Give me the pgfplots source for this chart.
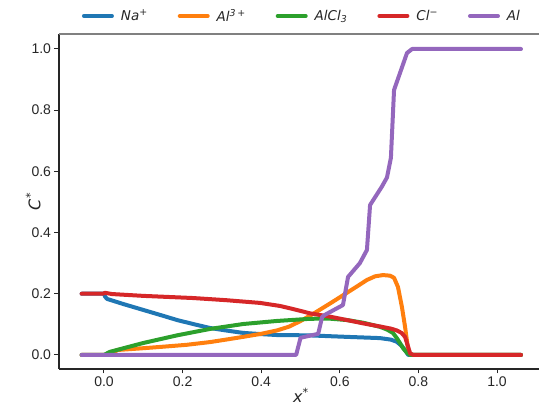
\documentclass[border=0pt]{standalone}
\usepackage{pgfplots}
\pgfplotsset{compat=1.18}
\usepackage{fontspec}
\setmainfont{Liberation Sans}
\newfontfamily\djv{DejaVu Sans}
\definecolor{tblue}{HTML}{1F77B4}
\definecolor{torange}{HTML}{FF7F0E}
\definecolor{tgreen}{HTML}{2CA02C}
\definecolor{tred}{HTML}{D62728}
\definecolor{tpurple}{HTML}{9467BD}
\definecolor{spine}{HTML}{262626}
\begin{document}
\begin{tikzpicture}
\begin{axis}[
  scale only axis, width=484pt, height=335pt,
  xmin=-0.1145, xmax=1.117, ymin=-0.046, ymax=1.049,
  axis x line*=bottom, axis y line*=left,
  axis line style={spine, line width=1.5pt, -},
  tick align=outside, major tick length=4.5pt,
  tick style={spine, line width=1pt},
  xtick={0,0.2,0.4,0.6,0.8,1.0}, ytick={0,0.2,0.4,0.6,0.8,1.0},
  xticklabel style={/pgf/number format/.cd, fixed, fixed zerofill, precision=1},
  yticklabel style={/pgf/number format/.cd, fixed, fixed zerofill, precision=1},
  /pgf/number format/assume math mode=true,
  ticklabel style={font=\fontsize{14}{16}\selectfont, text=spine},
  xlabel={{\djv\itshape x}\textsuperscript{\djv *}},
  ylabel={{\djv\itshape C}\textsuperscript{\djv *}},
  label style={font=\fontsize{16}{18}\selectfont, text=spine},
  xlabel style={yshift=6pt},
  ylabel style={yshift=-16pt},
  legend columns=5,
  legend style={draw=none, fill=none, at={(0.502,1)}, anchor=center, yshift=18pt,
    font=\djv\itshape\fontsize{13.5}{15}\selectfont, text=spine,
    /tikz/every odd column/.append style={column sep=5pt},
    /tikz/every even column/.append style={column sep=28pt}},
  legend image code/.code={\draw[#1, line width=4pt, line cap=round] (0pt,0pt) -- (28pt,0pt);},
  every axis plot/.append style={line width=4pt, line join=round, line cap=round},
  clip=false,
]
\addplot[tblue] coordinates {(-0.057,0.2) (0.0,0.2) (0.003,0.19) (0.008,0.183) (0.05,0.166) (0.1,0.147) (0.15,0.128) (0.186,0.114) (0.23,0.1) (0.27,0.088) (0.31,0.08) (0.354,0.072) (0.4,0.068) (0.44,0.065) (0.52,0.064) (0.618,0.059) (0.702,0.055) (0.73,0.05) (0.745,0.043) (0.757,0.03) (0.766,0.016) (0.774,0) (1.061,0)};
\addlegendentry{Na\textsuperscript{+}}
\addplot[torange] coordinates {(-0.057,0) (0.02,0) (0.033,0.016) (0.09,0.021) (0.142,0.026) (0.21,0.033) (0.27,0.042) (0.31,0.05) (0.354,0.059) (0.4,0.069) (0.44,0.08) (0.47,0.092) (0.499,0.11) (0.532,0.134) (0.575,0.168) (0.618,0.203) (0.645,0.225) (0.669,0.245) (0.69,0.257) (0.71,0.261) (0.728,0.259) (0.738,0.252) (0.748,0.222) (0.758,0.157) (0.766,0.092) (0.774,0.016) (0.779,0) (1.061,0)};
\addlegendentry{Al\textsuperscript{3\,+}}
\addplot[tgreen] coordinates {(-0.057,0) (0.0,0) (0.015,0.01) (0.05,0.022) (0.1,0.039) (0.186,0.064) (0.27,0.085) (0.354,0.101) (0.44,0.111) (0.524,0.118) (0.57,0.119) (0.618,0.114) (0.66,0.105) (0.702,0.092) (0.72,0.083) (0.735,0.072) (0.745,0.055) (0.753,0.039) (0.762,0.02) (0.771,0.007) (0.779,0) (1.061,0)};
\addlegendentry{AlCl\textsubscript{3}}
\addplot[tred] coordinates {(-0.057,0.2) (-0.003,0.2) (0.003,0.203) (0.02,0.199) (0.1,0.193) (0.226,0.186) (0.31,0.179) (0.397,0.17) (0.448,0.16) (0.481,0.15) (0.524,0.136) (0.575,0.125) (0.618,0.114) (0.66,0.103) (0.702,0.093) (0.73,0.086) (0.745,0.08) (0.757,0.072) (0.766,0.059) (0.773,0.03) (0.779,0.005) (0.787,0) (1.061,0)};
\addlegendentry{Cl\textsuperscript{−}}
\addplot[tpurple] coordinates {(-0.057,0) (0.489,0) (0.5,0.056) (0.545,0.069) (0.555,0.124) (0.562,0.131) (0.608,0.163) (0.621,0.255) (0.651,0.3) (0.669,0.343) (0.677,0.49) (0.707,0.55) (0.72,0.58) (0.73,0.644) (0.738,0.866) (0.771,0.987) (0.784,1.0) (1.061,1.0)};
\addlegendentry{Al}
\draw[gray, line width=1.2pt] (rel axis cs:0,1) -- (rel axis cs:1,1);
\end{axis}
\pgfresetboundingbox
\useasboundingbox (-59pt,-37pt) rectangle (480pt,369pt);
\end{tikzpicture}
\end{document}
